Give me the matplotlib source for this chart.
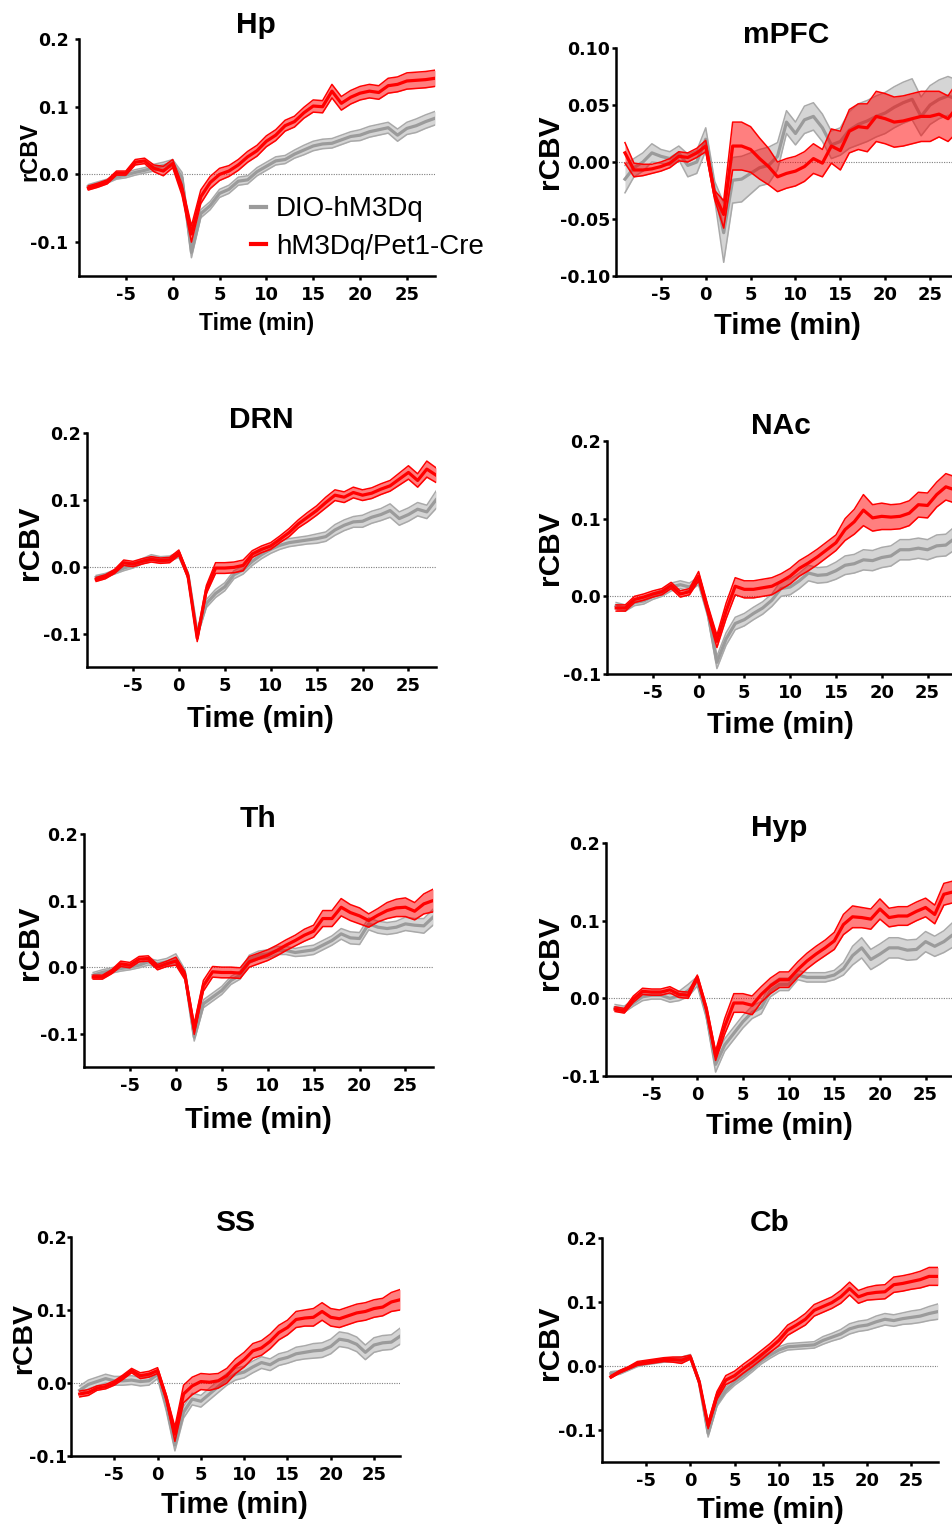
import numpy as np
import matplotlib
matplotlib.use("Agg")
import matplotlib.pyplot as plt
from matplotlib.lines import Line2D

plt.rcParams["font.family"] = ["Liberation Sans", "DejaVu Sans"]
plt.rcParams["axes.unicode_minus"] = False

# time axis (min)
TIME = list(range(-9, 29))
XTICKS = [-5, 0, 5, 10, 15, 20, 25]

# ---- data: mean and SEM per region/group ----
HP_RED = [-0.020, -0.016, -0.011, 0.002, 0.002, 0.018, 0.020, 0.009, 0.005, 0.016,
          -0.023, -0.088, -0.033, -0.012, 0.000, 0.005, 0.014, 0.026, 0.035, 0.049,
          0.058, 0.072, 0.078, 0.091, 0.101, 0.100, 0.123, 0.105, 0.114, 0.120,
          0.123, 0.121, 0.131, 0.133, 0.138, 0.139, 0.140, 0.142]
HP_RED_SEM = [0.003, 0.003, 0.003, 0.003, 0.003, 0.004, 0.004, 0.005, 0.007, 0.006,
              0.008, 0.012, 0.010, 0.009, 0.009, 0.008, 0.008, 0.008, 0.008, 0.008,
              0.008, 0.008, 0.008, 0.008, 0.009, 0.009, 0.010, 0.010, 0.010, 0.010,
              0.010, 0.010, 0.011, 0.011, 0.012, 0.012, 0.012, 0.012]
HP_GRAY = [-0.018, -0.014, -0.010, -0.004, -0.001, 0.003, 0.006, 0.010, 0.013, 0.017,
           -0.005, -0.115, -0.058, -0.046, -0.028, -0.022, -0.010, -0.008, 0.004, 0.012,
           0.020, 0.022, 0.030, 0.036, 0.042, 0.045, 0.046, 0.051, 0.056, 0.058,
           0.063, 0.066, 0.069, 0.058, 0.068, 0.072, 0.078, 0.083]
HP_GRAY_SEM = [0.003, 0.003, 0.003, 0.003, 0.004, 0.004, 0.004, 0.005, 0.005, 0.005,
               0.008, 0.008, 0.006, 0.006, 0.006, 0.006, 0.006, 0.006, 0.006, 0.006,
               0.006, 0.006, 0.006, 0.007, 0.007, 0.007, 0.007, 0.007, 0.007, 0.008,
               0.008, 0.008, 0.008, 0.009, 0.009, 0.010, 0.010, 0.010]

MPFC_RED = [0.008, -0.007, -0.007, -0.006, -0.004, -0.001, 0.005, 0.004, 0.008, 0.014,
            -0.029, -0.046, 0.014, 0.014, 0.011, 0.003, -0.004, -0.013, -0.010, -0.008,
            -0.004, 0.003, -0.001, 0.014, 0.010, 0.027, 0.031, 0.030, 0.040, 0.038,
            0.035, 0.036, 0.038, 0.040, 0.040, 0.042, 0.038, 0.048]
MPFC_RED_SEM = [0.009, 0.006, 0.005, 0.004, 0.004, 0.004, 0.004, 0.004, 0.004, 0.005,
                0.004, 0.012, 0.021, 0.021, 0.020, 0.018, 0.016, 0.013, 0.013, 0.013,
                0.013, 0.013, 0.012, 0.015, 0.017, 0.019, 0.020, 0.021, 0.022, 0.022,
                0.022, 0.022, 0.022, 0.022, 0.022, 0.020, 0.020, 0.022]
MPFC_GRAY = [-0.015, -0.005, 0.000, 0.008, 0.005, 0.003, 0.008, -0.003, 0.000, 0.020,
             -0.025, -0.062, -0.016, -0.015, -0.010, -0.005, -0.003, 0.005, 0.035, 0.025,
             0.037, 0.040, 0.030, 0.015, 0.018, 0.028, 0.033, 0.036, 0.040, 0.043,
             0.048, 0.052, 0.055, 0.040, 0.050, 0.055, 0.058, 0.055]
MPFC_GRAY_SEM = [0.012, 0.008, 0.008, 0.008, 0.006, 0.006, 0.006, 0.010, 0.010, 0.010,
                 0.008, 0.026, 0.020, 0.020, 0.018, 0.016, 0.016, 0.012, 0.010, 0.010,
                 0.012, 0.012, 0.012, 0.012, 0.012, 0.016, 0.018, 0.018, 0.018, 0.018,
                 0.018, 0.018, 0.018, 0.017, 0.017, 0.017, 0.017, 0.017]

DRN_RED = [-0.019, -0.015, -0.007, 0.006, 0.004, 0.008, 0.011, 0.009, 0.010, 0.021,
           -0.014, -0.107, -0.034, -0.002, -0.002, -0.001, 0.002, 0.019, 0.026, 0.031,
           0.041, 0.051, 0.064, 0.074, 0.084, 0.096, 0.107, 0.104, 0.111, 0.107,
           0.110, 0.116, 0.121, 0.131, 0.141, 0.129, 0.146, 0.137]
DRN_RED_SEM = [0.003, 0.003, 0.003, 0.004, 0.004, 0.004, 0.004, 0.004, 0.004, 0.004,
               0.004, 0.005, 0.006, 0.008, 0.008, 0.008, 0.008, 0.005, 0.005, 0.005,
               0.005, 0.006, 0.006, 0.007, 0.007, 0.008, 0.008, 0.008, 0.008, 0.008,
               0.008, 0.008, 0.008, 0.009, 0.010, 0.010, 0.012, 0.011]
DRN_GRAY = [-0.016, -0.013, -0.008, -0.002, 0.002, 0.008, 0.014, 0.011, 0.012, 0.018,
            -0.012, -0.100, -0.055, -0.040, -0.030, -0.012, -0.005, 0.008, 0.018, 0.026,
            0.032, 0.036, 0.038, 0.040, 0.042, 0.045, 0.055, 0.062, 0.067, 0.068,
            0.074, 0.078, 0.084, 0.072, 0.078, 0.086, 0.082, 0.100]
DRN_GRAY_SEM = [0.003, 0.003, 0.003, 0.004, 0.004, 0.004, 0.004, 0.004, 0.004, 0.004,
                0.004, 0.005, 0.006, 0.006, 0.006, 0.006, 0.006, 0.006, 0.006, 0.006,
                0.006, 0.006, 0.006, 0.006, 0.007, 0.007, 0.008, 0.008, 0.008, 0.009,
                0.009, 0.009, 0.010, 0.010, 0.010, 0.010, 0.010, 0.013]

NAC_RED = [-0.015, -0.015, -0.004, -0.001, 0.003, 0.006, 0.014, 0.003, 0.006, 0.026,
           -0.017, -0.058, -0.019, 0.013, 0.009, 0.009, 0.011, 0.013, 0.019, 0.026,
           0.036, 0.043, 0.051, 0.060, 0.069, 0.086, 0.096, 0.111, 0.101, 0.103,
           0.102, 0.103, 0.107, 0.118, 0.117, 0.131, 0.141, 0.137]
NAC_RED_SEM = [0.004, 0.004, 0.004, 0.004, 0.004, 0.004, 0.004, 0.004, 0.004, 0.006,
               0.006, 0.008, 0.010, 0.011, 0.011, 0.011, 0.011, 0.011, 0.010, 0.010,
               0.010, 0.010, 0.010, 0.010, 0.010, 0.014, 0.016, 0.020, 0.017, 0.017,
               0.016, 0.016, 0.016, 0.016, 0.016, 0.016, 0.017, 0.017]
NAC_GRAY = [-0.012, -0.015, -0.008, -0.006, 0.000, 0.004, 0.012, 0.015, 0.012, 0.020,
            -0.020, -0.085, -0.055, -0.035, -0.030, -0.022, -0.015, -0.005, 0.010, 0.012,
            0.020, 0.030, 0.027, 0.028, 0.033, 0.040, 0.042, 0.047, 0.046, 0.050,
            0.052, 0.060, 0.060, 0.062, 0.060, 0.065, 0.066, 0.075]
NAC_GRAY_SEM = [0.004, 0.004, 0.004, 0.004, 0.004, 0.004, 0.005, 0.005, 0.005, 0.005,
                0.006, 0.008, 0.008, 0.008, 0.008, 0.008, 0.008, 0.008, 0.010, 0.010,
                0.010, 0.010, 0.010, 0.010, 0.011, 0.012, 0.012, 0.013, 0.013, 0.013,
                0.013, 0.013, 0.013, 0.013, 0.013, 0.014, 0.014, 0.015]

TH_RED = [-0.015, -0.015, -0.007, 0.005, 0.003, 0.012, 0.013, 0.000, 0.005, 0.009,
          -0.013, -0.093, -0.028, -0.007, -0.008, -0.008, -0.009, 0.008, 0.013, 0.018,
          0.025, 0.033, 0.040, 0.048, 0.054, 0.073, 0.073, 0.090, 0.082, 0.077,
          0.070, 0.078, 0.085, 0.089, 0.090, 0.084, 0.095, 0.100]
TH_RED_SEM = [0.003, 0.003, 0.003, 0.004, 0.004, 0.004, 0.004, 0.004, 0.004, 0.006,
              0.006, 0.008, 0.008, 0.008, 0.008, 0.008, 0.008, 0.008, 0.008, 0.008,
              0.008, 0.008, 0.008, 0.009, 0.009, 0.012, 0.012, 0.013, 0.012, 0.012,
              0.010, 0.010, 0.012, 0.013, 0.014, 0.013, 0.015, 0.017]
TH_GRAY = [-0.012, -0.008, -0.005, -0.002, 0.000, 0.003, 0.008, 0.005, 0.008, 0.012,
           -0.010, -0.105, -0.055, -0.045, -0.035, -0.020, -0.012, 0.012, 0.018, 0.020,
           0.025, 0.025, 0.022, 0.024, 0.026, 0.033, 0.040, 0.050, 0.044, 0.043,
           0.065, 0.060, 0.058, 0.060, 0.065, 0.063, 0.062, 0.075]
TH_GRAY_SEM = [0.004, 0.004, 0.004, 0.004, 0.004, 0.004, 0.005, 0.005, 0.005, 0.008,
               0.006, 0.006, 0.006, 0.006, 0.006, 0.006, 0.006, 0.006, 0.006, 0.006,
               0.006, 0.006, 0.006, 0.007, 0.007, 0.007, 0.007, 0.008, 0.009, 0.009,
               0.009, 0.009, 0.009, 0.009, 0.010, 0.010, 0.011, 0.012]

HYP_RED = [-0.014, -0.016, -0.001, 0.009, 0.008, 0.008, 0.011, 0.005, 0.004, 0.027,
           -0.014, -0.074, -0.036, -0.006, -0.006, -0.009, 0.005, 0.016, 0.024, 0.024,
           0.037, 0.048, 0.057, 0.065, 0.074, 0.095, 0.105, 0.104, 0.102, 0.115,
           0.104, 0.106, 0.106, 0.112, 0.117, 0.108, 0.134, 0.137]
HYP_RED_SEM = [0.003, 0.003, 0.004, 0.004, 0.004, 0.004, 0.004, 0.004, 0.004, 0.003,
               0.004, 0.006, 0.010, 0.012, 0.012, 0.012, 0.010, 0.010, 0.010, 0.010,
               0.010, 0.010, 0.010, 0.010, 0.011, 0.013, 0.014, 0.013, 0.013, 0.013,
               0.012, 0.012, 0.012, 0.012, 0.012, 0.012, 0.014, 0.014]
HYP_GRAY = [-0.012, -0.014, -0.006, 0.002, 0.004, 0.004, 0.000, 0.003, 0.010, 0.022,
            -0.020, -0.085, -0.060, -0.045, -0.030, -0.018, -0.012, 0.010, 0.018, 0.018,
            0.030, 0.027, 0.027, 0.027, 0.030, 0.038, 0.055, 0.065, 0.050, 0.057,
            0.065, 0.065, 0.062, 0.063, 0.073, 0.067, 0.073, 0.082]
HYP_GRAY_SEM = [0.004, 0.004, 0.004, 0.005, 0.005, 0.005, 0.005, 0.006, 0.008, 0.006,
                0.006, 0.010, 0.008, 0.008, 0.008, 0.008, 0.008, 0.008, 0.008, 0.008,
                0.006, 0.006, 0.006, 0.006, 0.006, 0.008, 0.012, 0.013, 0.013, 0.013,
                0.013, 0.013, 0.013, 0.013, 0.013, 0.013, 0.014, 0.016]

SS_RED = [-0.015, -0.013, -0.007, -0.005, 0.000, 0.008, 0.017, 0.010, 0.012, 0.017,
          -0.020, -0.070, -0.015, -0.004, 0.002, 0.001, 0.003, 0.010, 0.023, 0.032,
          0.044, 0.048, 0.057, 0.069, 0.076, 0.087, 0.089, 0.090, 0.098, 0.090,
          0.088, 0.092, 0.096, 0.098, 0.102, 0.104, 0.111, 0.114]
SS_RED_SEM = [0.004, 0.004, 0.003, 0.003, 0.003, 0.003, 0.003, 0.004, 0.004, 0.004,
              0.004, 0.010, 0.012, 0.012, 0.011, 0.011, 0.010, 0.010, 0.010, 0.010,
              0.010, 0.010, 0.010, 0.010, 0.010, 0.011, 0.011, 0.012, 0.012, 0.012,
              0.012, 0.012, 0.012, 0.012, 0.012, 0.012, 0.013, 0.014]
SS_GRAY = [-0.010, -0.002, 0.002, 0.006, 0.003, 0.003, 0.004, 0.002, 0.003, 0.012,
           -0.030, -0.085, -0.040, -0.022, -0.025, -0.015, -0.005, 0.005, 0.012, 0.015,
           0.022, 0.028, 0.025, 0.032, 0.035, 0.040, 0.042, 0.044, 0.045, 0.050,
           0.060, 0.058, 0.053, 0.042, 0.052, 0.055, 0.056, 0.064]
SS_GRAY_SEM = [0.006, 0.006, 0.006, 0.006, 0.006, 0.006, 0.006, 0.006, 0.006, 0.006,
               0.008, 0.008, 0.008, 0.008, 0.008, 0.008, 0.008, 0.008, 0.008, 0.008,
               0.008, 0.008, 0.008, 0.008, 0.008, 0.009, 0.009, 0.010, 0.010, 0.010,
               0.010, 0.010, 0.010, 0.010, 0.010, 0.010, 0.010, 0.011]

CB_RED = [-0.017, -0.009, -0.003, 0.004, 0.006, 0.008, 0.010, 0.010, 0.009, 0.014,
          -0.025, -0.093, -0.046, -0.022, -0.015, -0.004, 0.006, 0.017, 0.028, 0.040,
          0.056, 0.064, 0.073, 0.087, 0.093, 0.099, 0.108, 0.121, 0.108, 0.113,
          0.115, 0.116, 0.127, 0.129, 0.132, 0.135, 0.140, 0.140]
CB_RED_SEM = [0.002, 0.002, 0.002, 0.003, 0.003, 0.003, 0.003, 0.004, 0.005, 0.003,
              0.003, 0.005, 0.006, 0.007, 0.007, 0.007, 0.007, 0.007, 0.007, 0.008,
              0.008, 0.008, 0.009, 0.009, 0.009, 0.009, 0.010, 0.010, 0.010, 0.010,
              0.011, 0.011, 0.012, 0.012, 0.012, 0.013, 0.014, 0.014]
CB_GRAY = [-0.012, -0.010, -0.004, 0.002, 0.005, 0.007, 0.009, 0.010, 0.010, 0.014,
           -0.025, -0.105, -0.058, -0.038, -0.025, -0.015, -0.004, 0.008, 0.017, 0.025,
           0.030, 0.031, 0.032, 0.033, 0.040, 0.045, 0.050, 0.058, 0.062, 0.064,
           0.069, 0.073, 0.071, 0.074, 0.076, 0.078, 0.082, 0.085]
CB_GRAY_SEM = [0.003, 0.003, 0.003, 0.003, 0.003, 0.003, 0.003, 0.003, 0.004, 0.004,
               0.004, 0.006, 0.005, 0.005, 0.005, 0.005, 0.005, 0.005, 0.005, 0.005,
               0.005, 0.005, 0.005, 0.005, 0.006, 0.006, 0.007, 0.008, 0.008, 0.008,
               0.009, 0.009, 0.009, 0.009, 0.010, 0.010, 0.011, 0.012]

LEGEND_LABELS = ["DIO-hM3Dq", "hM3Dq/Pet1-Cre"]

RED = "#ff0000"
GRAY_LINE = "#9b9b9b"
GRAY_EDGE = "#a9a9a9"
GRAY_FILL = "#d5d5d5"
TICK_FONT = "DejaVu Sans"   # wider bold digits, closer to the stretched originals

W, H = 952, 1526

# layout in pixels: axes box (l, t, r, b), title/xlabel baselines, ylabel centre
PANELS = [
    dict(name="Hp", red=(HP_RED, HP_RED_SEM), gray=(HP_GRAY, HP_GRAY_SEM),
         box=(79, 39, 435, 276), ylim=(-0.15, 0.2), yticks=[-0.1, 0.0, 0.1, 0.2],
         fmt="{:.1f}", ypad=4.5,
         title=(256, 33), xlab=(257, 330), ylab=(30, 151), lab_fs=16.5),
    dict(name="mPFC", red=(MPFC_RED, MPFC_RED_SEM), gray=(MPFC_GRAY, MPFC_GRAY_SEM),
         box=(616, 48, 957, 276), ylim=(-0.10, 0.10),
         yticks=[-0.10, -0.05, 0.0, 0.05, 0.10], fmt="{:.2f}", ypad=1.2,
         title=(786, 43), xlab=(787, 334), ylab=(550, 152), lab_fs=21),
    dict(name="DRN", red=(DRN_RED, DRN_RED_SEM), gray=(DRN_GRAY, DRN_GRAY_SEM),
         box=(87, 433, 436, 667), ylim=(-0.15, 0.2), yticks=[-0.1, 0.0, 0.1, 0.2],
         fmt="{:.1f}", ypad=1.5,
         title=(261, 428), xlab=(260, 727), ylab=(30, 543), lab_fs=21),
    dict(name="NAc", red=(NAC_RED, NAC_RED_SEM), gray=(NAC_GRAY, NAC_GRAY_SEM),
         box=(607, 441, 955, 674), ylim=(-0.10, 0.2), yticks=[-0.1, 0.0, 0.1, 0.2],
         fmt="{:.1f}", ypad=1.5,
         title=(781, 434), xlab=(780, 733), ylab=(550, 548), lab_fs=21),
    dict(name="Th", red=(TH_RED, TH_RED_SEM), gray=(TH_GRAY, TH_GRAY_SEM),
         box=(84, 834, 433, 1067), ylim=(-0.15, 0.2), yticks=[-0.1, 0.0, 0.1, 0.2],
         fmt="{:.1f}", ypad=1.2,
         title=(258, 827), xlab=(258, 1128), ylab=(30, 943), lab_fs=21),
    dict(name="Hyp", red=(HYP_RED, HYP_RED_SEM), gray=(HYP_GRAY, HYP_GRAY_SEM),
         box=(606, 843, 953, 1076), ylim=(-0.10, 0.2), yticks=[-0.1, 0.0, 0.1, 0.2],
         fmt="{:.1f}", ypad=1.2,
         title=(779, 836), xlab=(779, 1134), ylab=(550, 953), lab_fs=21),
    dict(name="SS", red=(SS_RED, SS_RED_SEM), gray=(SS_GRAY, SS_GRAY_SEM),
         box=(71, 1237, 400, 1456), ylim=(-0.10, 0.2), yticks=[-0.1, 0.0, 0.1, 0.2],
         fmt="{:.1f}", ypad=0.0,
         title=(235, 1231), xlab=(234, 1513), ylab=(24, 1338), lab_fs=20),
    dict(name="Cb", red=(CB_RED, CB_RED_SEM), gray=(CB_GRAY, CB_GRAY_SEM),
         box=(602, 1238, 938, 1462), ylim=(-0.15, 0.2), yticks=[-0.1, 0.0, 0.1, 0.2],
         fmt="{:.1f}", ypad=1.0,
         title=(770, 1231), xlab=(770, 1518), ylab=(550, 1343), lab_fs=21),
]


def draw_group(ax, t, mean, sem, fill, edge, line, alpha, z):
    mean = np.asarray(mean)
    sem = np.asarray(sem)
    lo, hi = mean - sem, mean + sem
    ax.fill_between(t, lo, hi, color=fill, alpha=alpha, lw=0, zorder=z)
    ax.plot(t, lo, color=edge, lw=1.1, zorder=z + 0.1)
    ax.plot(t, hi, color=edge, lw=1.1, zorder=z + 0.1)
    ax.plot(t, mean, color=line, lw=2.3, zorder=z + 0.2)


fig = plt.figure(figsize=(W / 100, H / 100), dpi=100)

for p in PANELS:
    l, t, r, b = p["box"]
    ax = fig.add_axes([l / W, 1 - b / H, (r - l) / W, (b - t) / H])
    ax.axhline(0, color="#7f7f7f", lw=0.8, ls=(0, (1, 1.2)), zorder=1)
    draw_group(ax, TIME, *p["gray"], GRAY_FILL, GRAY_EDGE, GRAY_LINE, 1.0, 2)
    draw_group(ax, TIME, *p["red"], RED, RED, RED, 0.5, 5)

    ax.set_xlim(-10, 28)
    ax.set_ylim(*p["ylim"])
    ax.set_xticks(XTICKS, labels=[str(v) for v in XTICKS],
                  fontfamily=TICK_FONT, fontweight="bold", fontsize=13)
    ylabels = [p["fmt"].format(v + 0.0) for v in p["yticks"]]
    ax.set_yticks(p["yticks"], labels=ylabels,
                  fontfamily=TICK_FONT, fontweight="bold", fontsize=12.5)
    for s in ("top", "right"):
        ax.spines[s].set_visible(False)
    for s in ("left", "bottom"):
        ax.spines[s].set_linewidth(1.8)
    ax.tick_params(axis="both", width=1.8, length=3)
    ax.tick_params(axis="x", pad=4.5)
    ax.tick_params(axis="y", pad=p["ypad"])

    tx, ty = p["title"]
    fig.text(tx / W, 1 - ty / H, p["name"], ha="center", va="baseline",
             fontsize=21.5, fontweight="bold")
    xx, xy = p["xlab"]
    fig.text(xx / W, 1 - xy / H, "Time (min)", ha="center", va="baseline",
             fontsize=21 if p["name"] == "SS" else p["lab_fs"], fontweight="bold")
    yx, yy = p["ylab"]
    fig.text(yx / W, 1 - yy / H, "rCBV", ha="center", va="center", rotation=90,
             fontsize=p["lab_fs"] + 0.5, fontweight="bold")

    if p["name"] == "Hp":
        handles = [Line2D([], [], color=GRAY_LINE, lw=3),
                   Line2D([], [], color=RED, lw=3)]
        fig.legend(handles, LEGEND_LABELS, loc="center left",
                   bbox_to_anchor=(251 / W, 1 - 228 / H), frameon=False,
                   fontsize=20, handlelength=0.55, handletextpad=0.35,
                   labelspacing=0.4, borderpad=0, borderaxespad=0)

fig.savefig("out.png", dpi=100)
